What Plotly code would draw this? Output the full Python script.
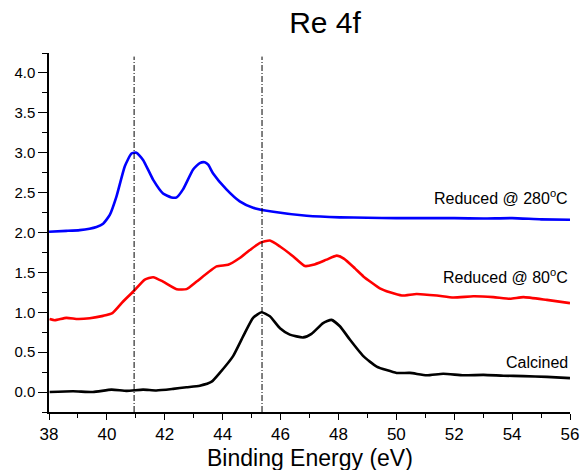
import plotly.graph_objects as go

# Data
x_280 = [38.0, 38.6, 39.06, 39.64, 39.87, 40.1, 40.33, 40.62, 40.85, 41.02, 41.25, 41.6, 41.94,
         42.23, 42.41, 42.63, 42.98, 43.21, 43.38, 43.5, 43.67, 44.13, 44.59, 45.05, 45.75, 46.9,
         48.05, 49.0, 50.0, 51.0, 52.0, 53.0, 54.0, 55.0, 56.0]
y_280 = [2.01, 2.02, 2.03, 2.07, 2.11, 2.22, 2.45, 2.83, 2.99, 3.0, 2.91, 2.66, 2.49,
         2.44, 2.44, 2.54, 2.79, 2.87, 2.88, 2.85, 2.74, 2.54, 2.39, 2.31, 2.26, 2.21,
         2.19, 2.185, 2.18, 2.18, 2.18, 2.175, 2.18, 2.165, 2.16]

x_80 = [38.02, 38.2, 38.6, 39.0, 39.41, 39.87, 40.19, 40.56, 40.94, 41.31, 41.6, 41.94, 42.41,
        42.75, 43.1, 43.79, 44.19, 44.59, 44.94, 45.29, 45.63, 45.98, 46.44, 46.84, 47.13,
        47.59, 47.94, 48.2, 48.57, 48.86, 49.43, 49.78, 50.19, 50.7, 51.4, 51.97, 52.66,
        53.35, 53.93, 54.39, 55.2, 56.0]
y_80 = [0.915, 0.90, 0.93, 0.915, 0.925, 0.955, 0.99, 1.135, 1.27, 1.41, 1.44, 1.385, 1.29,
        1.29, 1.385, 1.575, 1.595, 1.68, 1.78, 1.87, 1.90, 1.825, 1.70, 1.58, 1.595,
        1.66, 1.71, 1.67, 1.55, 1.45, 1.30, 1.25, 1.21, 1.23, 1.21, 1.185, 1.20,
        1.19, 1.17, 1.19, 1.155, 1.115]

x_cal = [38.02, 38.83, 39.52, 40.16, 40.68, 41.25, 41.71, 42.29, 42.75, 43.21, 43.62, 43.9,
         44.36, 44.71, 45.05, 45.34, 45.63, 45.98, 46.32, 46.78, 47.07, 47.47, 47.76, 48.05,
         48.4, 48.86, 49.32, 50.01, 50.47, 51.05, 51.62, 52.32, 53.01, 53.7, 54.39, 55.2, 56.0]
y_cal = [0.0, 0.01, 0.0, 0.03, 0.015, 0.03, 0.02, 0.04, 0.06, 0.08, 0.13, 0.24,
         0.45, 0.70, 0.93, 1.00, 0.95, 0.80, 0.72, 0.685, 0.73, 0.865, 0.905, 0.825,
         0.655, 0.45, 0.32, 0.24, 0.24, 0.21, 0.23, 0.21, 0.215, 0.205, 0.20, 0.19, 0.175]

ref_lines = [40.94, 45.36]

labels = ["Reduced @ 280<sup>o</sup>C", "Reduced @ 80<sup>o</sup>C", "Calcined"]
label_y = [2.45, 1.45, 0.37]

FONT = "Arial, 'Liberation Sans', sans-serif"

fig = go.Figure()
for xs, ys, col in [(x_280, y_280, "#0000ff"), (x_80, y_80, "#ff0000"), (x_cal, y_cal, "#000000")]:
    fig.add_trace(go.Scatter(x=xs, y=ys, mode="lines",
                             line=dict(color=col, width=2.6, shape="spline", smoothing=0.5),
                             showlegend=False, hoverinfo="skip"))

for xv in ref_lines:
    fig.add_shape(type="line", xref="x", yref="paper", x0=xv, x1=xv, y0=0, y1=0.99,
                  line=dict(color="black", width=1, dash="6px,2px,1px,2px"))

for t, yv in zip(labels, label_y):
    fig.add_annotation(x=56, y=yv, xref="x", yref="y", text=t, showarrow=False,
                       xanchor="right", yanchor="middle",
                       font=dict(family=FONT, size=16, color="black"))

# x-axis title placed as annotation for exact positioning
fig.add_annotation(x=0.5, y=0, xref="paper", yref="paper", text="Binding Energy (eV)",
                   showarrow=False, xanchor="center", yanchor="middle", yshift=-46,
                   font=dict(family=FONT, size=23, color="black"))

fig.update_layout(
    width=583, height=470,
    margin=dict(l=49, r=13, t=53, b=58, autoexpand=False),
    paper_bgcolor="white", plot_bgcolor="white",
    font=dict(family=FONT, color="black"),
    title=dict(text="Re 4f", x=325 / 583, xanchor="center", xref="container",
               y=1 - 22 / 470, yanchor="middle",
               font=dict(family=FONT, size=30, color="black")),
    xaxis=dict(range=[38, 56], showgrid=False, zeroline=False, showline=True, automargin=False,
               linecolor="black", linewidth=1.5, ticks="outside", ticklen=6, tickwidth=1.2,
               tickcolor="black", dtick=2, tick0=38,
               minor=dict(dtick=1, ticks="outside", ticklen=4, tickwidth=1.2, tickcolor="black"),
               tickfont=dict(family=FONT, size=17, color="black")),
    yaxis=dict(range=[-0.25, 4.25], showgrid=False, zeroline=False, showline=True, automargin=False,
               linecolor="black", linewidth=1.5, ticks="outside", ticklen=9, tickwidth=1.2,
               tickcolor="black", dtick=0.5, tick0=0, tickformat=".1f",
               minor=dict(dtick=0.25, ticks="outside", ticklen=5, tickwidth=1.2, tickcolor="black"),
               tickfont=dict(family=FONT, size=15, color="black")),
)

fig.write_html("out.html")
